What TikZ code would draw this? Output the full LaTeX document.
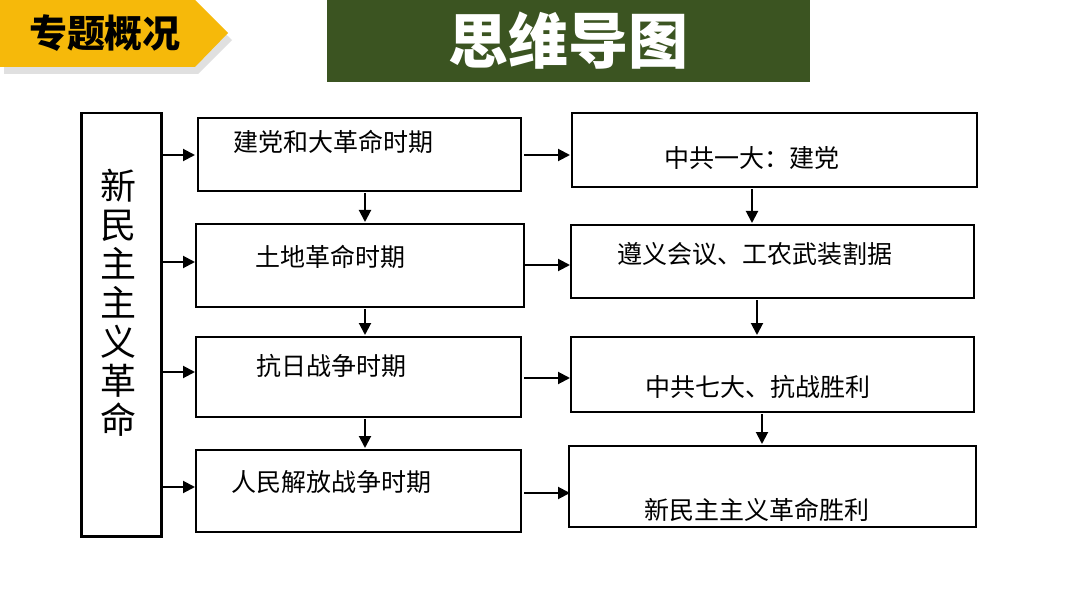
\documentclass[tikz,border=0pt]{standalone}
\usepackage{fontspec}
\setmainfont{Noto Sans CJK SC}
\usetikzlibrary{arrows.meta}
\definecolor{gold}{HTML}{F6B90A}
\definecolor{olivegreen}{HTML}{3B5421}
\begin{document}
\begin{tikzpicture}[x=1pt,y=-1pt,
 box/.style={draw=black,line width=2.5pt,fill=white},
 arr/.style={-{Triangle[length=12pt,width=12pt]},line width=2pt},
 lbl/.style={font=\fontsize{25}{28}\selectfont}]
\useasboundingbox (0,0) rectangle (1080,607);
\fill[white] (0,0) rectangle (1080,607);
\fill[black!12] (4,8) -- (198,8) -- (232,40) -- (198,74) -- (4,74) -- cycle;
\fill[gold] (0,0) -- (195,0) -- (228,33) -- (195,67) -- (0,67) -- cycle;
\node[font=\fontsize{38}{40}\selectfont\bfseries] (banner) at (105,33) {专题概况};
\fill[olivegreen] (327,0) rectangle (810,82);
\node[font=\fontsize{60}{64}\selectfont\bfseries,text=white] (title) at (568,41) {思维导图};
\node[box,minimum width=80pt,minimum height=423pt,anchor=north west] (L) at (80,112) {};
\node[font=\fontsize{36}{39}\selectfont,align=center] (Lt) at (118,303) {新\\民\\主\\主\\义\\革\\命};
% column 2
\draw[box] (198,118) rectangle (521,191);
\draw[box] (196,224) rectangle (524,307);
\draw[box] (196,337) rectangle (521,417);
\draw[box] (196,450) rectangle (521,532);
\node[lbl] (b1) at (333,142) {建党和大革命时期};
\node[lbl] (b2) at (330,257) {土地革命时期};
\node[lbl] (b3) at (331,366) {抗日战争时期};
\node[lbl] (b4) at (331,482) {人民解放战争时期};
% column 3
\draw[box] (572,113) rectangle (977,187);
\draw[box] (571,225) rectangle (974,298);
\draw[box] (571,337) rectangle (974,412);
\draw[box] (569,446) rectangle (976,527);
\node[lbl] (c1) at (752,158) {中共一大：建党};
\node[lbl] (c2) at (755,254) {遵义会议、工农武装割据};
\node[lbl] (c3) at (758,387) {中共七大、抗战胜利};
\node[lbl] (c4) at (757,510) {新民主主义革命胜利};
% arrows
\foreach \y in {155,262,372,487} \draw[arr] (162,\y) -- (195,\y);
\foreach \y in {155,265,378,493} \draw[arr] (524,\y) -- (570,\y);
\draw[arr] (365,193) -- (365,222);
\draw[arr] (365,309) -- (365,335);
\draw[arr] (365,419) -- (365,448);
\draw[arr] (752,189) -- (752,223);
\draw[arr] (757,300) -- (757,335);
\draw[arr] (762,414) -- (762,444);
\end{tikzpicture}
\end{document}
